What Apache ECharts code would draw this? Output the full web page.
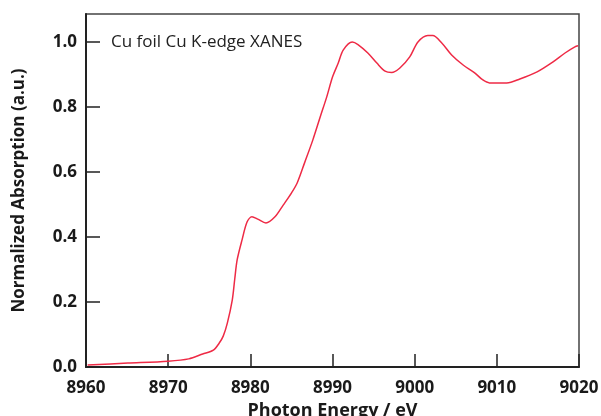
<!DOCTYPE html>
<html>
<head>
<meta charset="utf-8">
<script src="https://cdn.jsdelivr.net/npm/echarts@6/dist/echarts.min.js"></script>
<style>
  html, body { margin: 0; padding: 0; background: #fff; }
  #chart { width: 601px; height: 416px; }
</style>
</head>
<body>
<div id="chart"></div>
<script>
// Cu foil, Cu K-edge XANES spectrum
const energy = [
  8960.2, 8965.1, 8970.0, 8972.5, 8974.2, 8975.5, 8976.2, 8976.7, 8977.2, 8977.8,
  8978.1, 8978.4, 8979.0, 8979.6, 8980.2, 8980.9, 8981.9, 8983.0, 8984.0, 8985.0,
  8985.7, 8986.6, 8987.6, 8988.5, 8989.3, 8990.0, 8990.7, 8991.3, 8992.4, 8993.1,
  8994.3, 8995.4, 8996.4, 8997.2, 8998.2, 8999.4, 9000.4, 9001.6, 9002.2, 9003.3,
  9004.5, 9005.9, 9007.3, 9008.3, 9009.1, 9011.2, 9012.8, 9014.9, 9016.8, 9018.3,
  9019.5, 9019.9
];
const absorption = [
  0.006, 0.012, 0.018, 0.025, 0.040, 0.052, 0.073, 0.095, 0.135, 0.206,
  0.270, 0.330, 0.392, 0.446, 0.462, 0.455, 0.443, 0.462, 0.498, 0.535,
  0.566, 0.628, 0.698, 0.769, 0.831, 0.892, 0.935, 0.975, 1.000, 0.992,
  0.966, 0.935, 0.910, 0.906, 0.920, 0.954, 1.000, 1.020, 1.020, 0.997,
  0.960, 0.929, 0.905, 0.883, 0.874, 0.874, 0.886, 0.908, 0.938, 0.966,
  0.985, 0.988
];
const xTicks = [8960, 8970, 8980, 8990, 9000, 9010, 9020];
const yTicks = [0.0, 0.2, 0.4, 0.6, 0.8, 1.0];

const chart = echarts.init(document.getElementById('chart'), null, { renderer: 'canvas' });
const labelFont = '"Open Sans", "Liberation Sans", Arial, sans-serif';

chart.setOption({
  animation: false,
  backgroundColor: '#ffffff',
  grid: {
    left: 86, right: 22, top: 14, bottom: 49,
    outerBoundsMode: 'none', containLabel: false,
    show: true, borderColor: '#444', borderWidth: 1.5, backgroundColor: 'transparent'
  },
  xAxis: {
    type: 'value',
    min: xTicks[0], max: xTicks[xTicks.length - 1], interval: 10,
    name: 'Photon Energy / eV',
    nameLocation: 'middle', nameGap: 34,
    nameTextStyle: { fontFamily: labelFont, fontWeight: 'bold', fontSize: 18, color: '#1a1a1a' },
    axisLine: { onZero: false, lineStyle: { color: '#222', width: 2 } },
    axisTick: { inside: true, length: 13, lineStyle: { color: '#222', width: 1.5 } },
    axisLabel: {
      margin: 13, fontFamily: labelFont, fontWeight: 'bold', fontSize: 17, color: '#1a1a1a',
      formatter: v => xTicks.includes(v) ? String(v) : ''
    },
    splitLine: { show: false }
  },
  yAxis: {
    type: 'value',
    min: 0, max: 1.086, interval: 0.2,
    name: 'Normalized Absorption (a.u.)',
    nameLocation: 'middle', nameGap: 58, nameRotate: 90,
    nameTextStyle: { fontFamily: labelFont, fontWeight: 'bold', fontSize: 17, color: '#1a1a1a' },
    axisLine: { onZero: false, lineStyle: { color: '#222', width: 2 } },
    axisTick: { inside: true, length: 14, lineStyle: { color: '#222', width: 1.5 } },
    axisLabel: {
      margin: 9, fontFamily: labelFont, fontWeight: 'bold', fontSize: 17, color: '#1a1a1a',
      showMaxLabel: false,
      formatter: v => {
        const t = yTicks.find(k => Math.abs(k - v) < 1e-6);
        return t === undefined ? '' : t.toFixed(1);
      }
    },
    splitLine: { show: false }
  },
  graphic: [{
    type: 'text',
    left: 111, top: 34,
    style: {
      text: 'Cu foil Cu K-edge XANES',
      font: '17px "Open Sans", "Liberation Sans", Arial, sans-serif',
      fill: '#222'
    }
  }],
  series: [{
    type: 'line',
    data: energy.map((e, i) => [e, absorption[i]]),
    showSymbol: false,
    smooth: 0.3,
    lineStyle: { color: '#ee2a45', width: 1.5 },
    clip: true
  }]
});
</script>
</body>
</html>
